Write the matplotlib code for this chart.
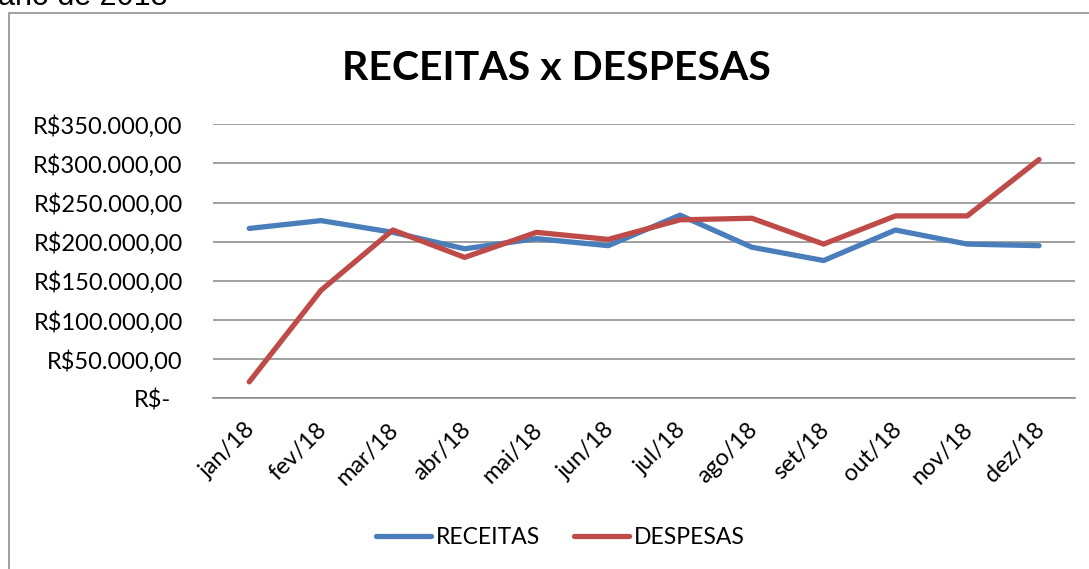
import matplotlib
matplotlib.use("Agg")
import matplotlib.pyplot as plt
from matplotlib.patches import Rectangle
from matplotlib.transforms import ScaledTranslation
from matplotlib.ticker import FixedLocator, FuncFormatter

# monthly values (R$)
meses = ['jan/18', 'fev/18', 'mar/18', 'abr/18', 'mai/18', 'jun/18',
         'jul/18', 'ago/18', 'set/18', 'out/18', 'nov/18', 'dez/18']
receitas = [217000, 227000, 212000, 191000, 204000, 195000,
            234000, 193000, 176000, 215000, 197000, 195000]
despesas = [21000, 138000, 215000, 180000, 212000, 203000,
            228000, 230000, 197000, 233000, 233000, 305000]
y_ticks = [0, 50000, 100000, 150000, 200000, 250000, 300000, 350000]

AZUL = '#4A7EBB'
VERMELHO = '#BE4B48'
CINZA = '#868686'
FONTE = ['Lato', 'DejaVu Sans']

plt.rcParams['font.family'] = FONTE


def moeda(v, pos=None):
    if v == 0:
        return 'R$-'
    s = f'{v:,.2f}'.replace(',', 'X').replace('.', ',').replace('X', '.')
    return 'R$' + s


fig = plt.figure(figsize=(10.89, 5.69), dpi=100)
ax = fig.add_axes([0.1959, 0.3000, 0.7912, 0.4815])

x = list(range(len(meses)))
ax.plot(x, receitas, color=AZUL, lw=3.8, solid_capstyle='round',
        solid_joinstyle='round', label='RECEITAS', zorder=3)
ax.plot(x, despesas, color=VERMELHO, lw=3.8, solid_capstyle='round',
        solid_joinstyle='round', label='DESPESAS', zorder=4)

ax.set_xlim(-0.5, len(meses) - 0.5)
ax.set_ylim(0, 350000)
ax.yaxis.set_major_locator(FixedLocator(y_ticks))
ax.yaxis.set_major_formatter(FuncFormatter(moeda))
ax.grid(axis='y', color=CINZA, lw=1.1)
ax.set_axisbelow(True)
for side in ['top', 'right', 'left']:
    ax.spines[side].set_visible(False)
ax.spines['bottom'].set_color(CINZA)
ax.spines['bottom'].set_linewidth(1.1)

ax.set_xticks(x)
ax.set_xticklabels(meses, rotation=45, ha='right', va='top',
                   rotation_mode='anchor', fontsize=17)
ax.tick_params(axis='x', length=0, pad=15)
ax.tick_params(axis='y', length=0, pad=22, labelsize=17)

# titulo
fig.text(0.5106, 0.8594, 'RECEITAS x DESPESAS', ha='center', va='baseline',
         fontsize=29.5, fontweight='bold', color='black')

leg = fig.legend(loc='center', bbox_to_anchor=(0.5147, 0.0562), ncol=2,
                 frameon=False, fontsize=16.5, handlelength=2.4,
                 handletextpad=0.2, columnspacing=1.5)

# moldura do grafico
fig.add_artist(Rectangle((0.0087, -0.1), 1.2, 0.9777 + 0.1,
                         transform=fig.transFigure, fill=False,
                         edgecolor=CINZA, lw=1.1))

# texto cortado acima do grafico
fig.text(168 / 1089, 1 - 5 / 569, 'ano de 2018', ha='right', va='baseline',
         fontsize=22, family=['Liberation Sans', 'DejaVu Sans'])

fig.canvas.draw()
lab0 = ax.get_yticklabels()[0]
lab0.set_transform(lab0.get_transform() +
                   ScaledTranslation(-12 / 100, 0, fig.dpi_scale_trans))
for lab in ax.get_xticklabels():
    lab.set_transform(lab.get_transform() +
                      ScaledTranslation(-5 / 100, 0, fig.dpi_scale_trans))

fig.savefig('out.png', dpi=100)
